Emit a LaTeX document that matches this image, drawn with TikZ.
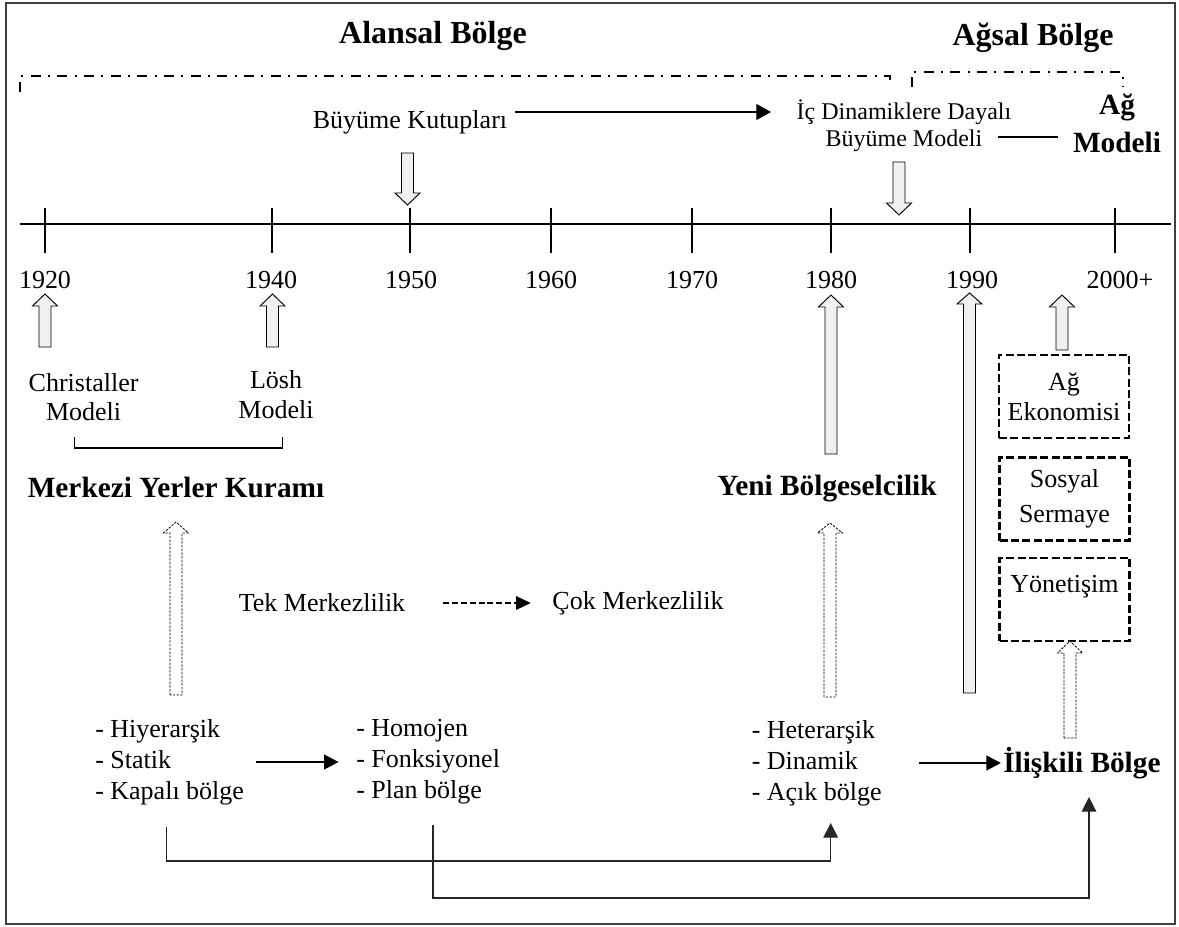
\documentclass[tikz,border=0pt]{standalone}
\usepackage{fontspec}
\setmainfont{Liberation Serif}
\usetikzlibrary{arrows.meta}
\newcommand\BlockArrow[5]{% style, x, tip y, head-base y, tail y
  \draw[#1] ({#2-6},{#5}) -- ({#2-6},{#4}) -- ({#2-12.5},{#4}) -- ({#2},{#3})
    -- ({#2+12.5},{#4}) -- ({#2+6},{#4}) -- ({#2+6},{#5}) -- cycle;}
\tikzset{
  lbl/.style={font=\fontsize{19.5}{22}\selectfont, inner sep=0pt, align=center},
  lst/.style={font=\fontsize{19.5}{23.3}\selectfont, inner sep=0pt, align=left, anchor=west},
  ttl/.style={font=\fontsize{24}{28}\selectfont\bfseries, inner sep=0pt},
  sec/.style={font=\fontsize{22}{25.5}\selectfont\bfseries, inner sep=0pt, align=center},
  blk/.style={draw=black, line width=0.7pt, fill=black!6},
  dotblk/.style={draw=black, line width=0.6pt, fill=white, dash pattern=on 1.8pt off 1pt},
  dbox/.style={draw=black, line width=1.9pt, dash pattern=on 6pt off 2.5pt, minimum width=97.5pt, minimum height=62.5pt, inner sep=0pt, align=center, font=\fontsize{19.5}{22}\selectfont},
  dashdot/.style={line width=1.5pt, dash pattern=on 7.5pt off 5.5pt on 1.5pt off 5.5pt},
  tick/.style={line width=1.5pt},
  thinarrow/.style={line width=0.8pt, -{Triangle[length=11pt,width=12pt]}},
  thickarrow/.style={line width=1.8pt, -{Triangle[length=11pt,width=11pt]}},
  conn/.style={line width=0.9pt, draw=black!85, -{Triangle[length=11pt,width=11pt]}},
}
\begin{document}
\begin{tikzpicture}[x=0.75pt,y=-0.75pt]
\useasboundingbox (0,0) rectangle (1179,927);
\draw[black!75, line width=1.2pt] (6,3) rectangle (1175,924);

% titles
\node[ttl] (alansal) at (433,36) {Alansal Bölge};
\node[ttl] (agsal) at (1033,38) {Ağsal Bölge};
\draw[dashdot] (20,92) -- (20,76) -- (890,76) -- (890,86);
\draw[dashdot] (912,87) -- (912,72) -- (1123,72) -- (1123,87);

% top labels
\node[lbl] (bk) at (410,122) {Büyüme Kutupları};
\node[lbl, font=\fontsize{18}{20.2}\selectfont] (ic) at (904,126) {İç Dinamiklere Dayalı\\Büyüme Modeli};
\node[sec] (agm) at (1117,123) {Ağ\\[3pt]Modeli};
\coordinate (bkA) at (515,112);
\coordinate (icA) at (771,112);
\draw[thinarrow] (bkA) -- (icA);
\coordinate (icB) at (998,137);
\coordinate (agB) at (1058,137);
\draw[line width=1.4pt] (icB) -- (agB);

% down block arrows
\BlockArrow{blk}{407.5}{205}{193}{153}
\BlockArrow{blk}{899}{215}{203}{162}

% timeline
\coordinate (tlS) at (20,224);
\coordinate (tlE) at (1171,224);
\draw[line width=2pt] (tlS) -- (tlE);
\foreach \x in {45,272,410,551,692,831,970,1114.6}
  \draw[tick] (\x,208) -- (\x,253);
\node[lbl] (y1920) at (45,280) {1920};
\node[lbl] (y1940) at (271,280) {1940};
\node[lbl] (y1950) at (411,280) {1950};
\node[lbl] (y1960) at (551,280) {1960};
\node[lbl] (y1970) at (692,280) {1970};
\node[lbl] (y1980) at (831,280) {1980};
\node[lbl] (y1990) at (972,280) {1990};
\node[lbl] (y2000) at (1120,280) {2000+};

% up block arrows
\BlockArrow{blk}{45}{294}{306}{347}
\BlockArrow{blk}{272.5}{294}{306}{347}
\BlockArrow{blk}{831}{295}{307}{454}
\BlockArrow{blk}{969.5}{293}{304}{693}
\BlockArrow{blk}{1062}{295}{307}{350}

% Christaller / Losh
\node[lbl, font=\fontsize{19.5}{21.5}\selectfont] (chr) at (83.6,397) {Christaller\\Modeli};
\node[lbl, font=\fontsize{19.5}{22.5}\selectfont] (losh) at (276,395) {Lösh\\Modeli};
\coordinate (brA) at (74.6,437);
\coordinate (brB) at (282.4,437);
\draw[line width=0.8pt] (brA) -- ++(0,11) -| (brB);

\node[sec] (myk) at (176,488) {Merkezi Yerler Kuramı};
\node[sec] (yb) at (827,489) {Yeni Bölgeselcilik};

% dashed boxes
\node[dbox] (box1) at (1064,396.5) {Ağ\\[0.5pt]Ekonomisi};
\node[dbox] (box2) at (1064.5,499) {Sosyal\\[4pt]Sermaye};
\node[dbox] (box3) at (1064.5,599.5) {Yönetişim\\[1pt]\mbox{}};

% dotted block arrows
\BlockArrow{dotblk}{176}{522}{533}{695}
\BlockArrow{dotblk}{830}{523}{533}{697}
\BlockArrow{dotblk}{1070}{641}{653}{738}

% Tek / Cok
\node[lbl] (tek) at (322,603) {Tek Merkezlilik};
\node[lbl] (cok) at (638,603) {Çok Merkezlilik};
\draw[line width=1.4pt, dash pattern=on 4.5pt off 2.2pt, -{Triangle[length=11pt,width=10pt]}, shorten <=28pt, shorten >=16pt] (tek) -- (cok);

% lists
\node[lst] (l1) at (95,762) {- Hiyerarşik\\- Statik\\- Kapalı bölge};
\node[lst] (l2) at (356,762) {- Homojen\\- Fonksiyonel\\- Plan bölge};
\node[lst] (l3) at (751.5,763) {- Heterarşik\\- Dinamik\\- Açık bölge};
\node[sec, anchor=west] (ili) at (1003,763) {İlişkili Bölge};
\draw[thickarrow, shorten <=8.7pt, shorten >=13pt] (l1) -- (l2);
\draw[thickarrow, shorten <=27.5pt, shorten >=1.5pt] (l3) -- (ili);

% bottom connectors
\coordinate (c1a) at (166.5,827);
\coordinate (c1b) at (830.7,823);
\draw[conn] (c1a) -- (166.5,861) -| (c1b);
\coordinate (c2a) at (433,825);
\coordinate (c2b) at (1089,797);
\draw[conn] (c2a) -- (433,898) -| (c2b);
\end{tikzpicture}
\end{document}
